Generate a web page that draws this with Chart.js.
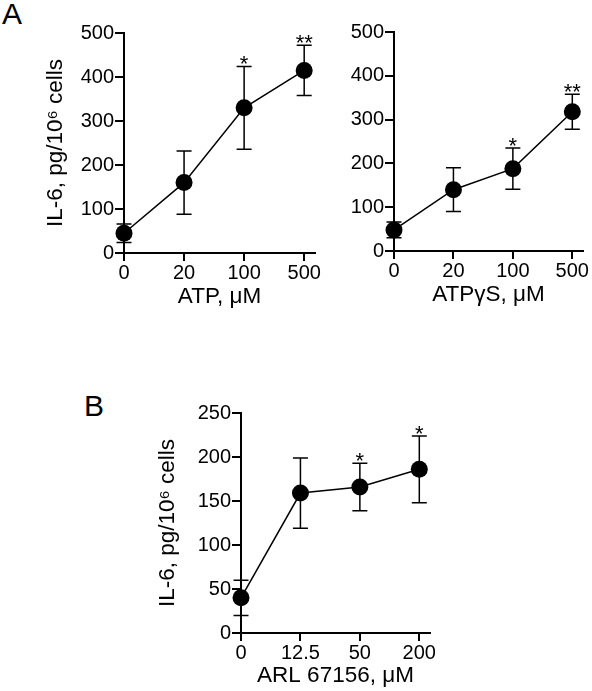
<!DOCTYPE html>
<html>
<head>
<meta charset="utf-8">
<script src="https://cdn.jsdelivr.net/npm/chart.js@4.4.1/dist/chart.umd.min.js"></script>
<style>
  html, body { margin: 0; padding: 0; background: #fff; }
  body { width: 592px; height: 691px; position: relative; overflow: hidden; }
  canvas { position: absolute; }
  .lbl { position: absolute; font: 30px 'Liberation Sans', Arial, sans-serif; line-height: 1; color: #000; }
</style>
</head>
<body>
<div class="lbl" style="left:2px; top:-1px;">A</div>
<div class="lbl" style="left:84px; top:391px;">B</div>
<canvas id="cAtp" width="330" height="320" style="left:0; top:0;"></canvas>
<canvas id="cAtpgs" width="262" height="320" style="left:330px; top:0;"></canvas>
<canvas id="cArl" width="350" height="351" style="left:120px; top:340px;"></canvas>
<script>
// Datos (media ± error)
const atpDosis = ['0', '20', '100', '500'];
const atpMedia = [45, 160, 330, 415];
const atpError = [21, 72, 94, 57];
const atpSig = ['', '', '*', '**'];

const atpgsDosis = ['0', '20', '100', '500'];
const atpgsMedia = [48, 140, 188, 318];
const atpgsError = [18, 50, 47, 40];
const atpgsSig = ['', '', '*', '**'];

const arlDosis = ['0', '12.5', '50', '200'];
const arlMedia = [40, 159, 166, 186];
const arlError = [20, 40, 27, 38];
const arlSig = ['', '', '*', '*'];

const tituloY = 'IL-6, pg/10\u2076 cells';

Chart.defaults.font.family = "'Liberation Sans', Arial, sans-serif";
Chart.defaults.color = '#000';

// barras de error (debajo de los puntos) y asteriscos (encima)
const errorBars = {
    id: 'errorBars',
    beforeDatasetsDraw(chart, args, opts) {
        const { ctx, scales: { x, y } } = chart;
        ctx.save();
        ctx.strokeStyle = '#000';
        ctx.lineWidth = 1.5;
        opts.media.forEach((m, i) => {
            const px = x.getPixelForValue(i);
            const top = y.getPixelForValue(m + opts.error[i]);
            const bot = y.getPixelForValue(m - opts.error[i]);
            ctx.beginPath();
            ctx.moveTo(px, top); ctx.lineTo(px, bot);
            ctx.moveTo(px - 7.5, top); ctx.lineTo(px + 7.5, top);
            ctx.moveTo(px - 7.5, bot); ctx.lineTo(px + 7.5, bot);
            ctx.stroke();
        });
        ctx.restore();
    },
    afterDatasetsDraw(chart, args, opts) {
        const { ctx, scales: { x, y } } = chart;
        ctx.save();
        ctx.fillStyle = '#000';
        ctx.font = "22px 'Liberation Sans', Arial, sans-serif";
        ctx.textAlign = 'center';
        ctx.textBaseline = 'alphabetic';
        opts.sig.forEach((s, i) => {
            if (!s) return;
            const px = x.getPixelForValue(i);
            const top = y.getPixelForValue(opts.media[i] + opts.error[i]);
            ctx.fillText(s, px, top + 5);
        });
        ctx.restore();
    }
};

function grafico(id, cfg) {
    const ctx = document.getElementById(id).getContext('2d');
    return new Chart(ctx, {
        type: 'line',
        data: {
            datasets: [{
                data: cfg.media.map((v, i) => ({ x: i, y: v })),
                borderColor: '#000',
                borderWidth: 1.5,
                backgroundColor: '#000',
                pointBackgroundColor: '#000',
                pointBorderWidth: 0,
                pointRadius: 8.5,
                pointHoverRadius: 8.5,
                tension: 0,
                clip: false
            }]
        },
        options: {
            responsive: false,
            animation: false,
            devicePixelRatio: 1,
            events: [],
            layout: { padding: cfg.pad },
            plugins: {
                legend: { display: false },
                tooltip: { enabled: false },
                errorBars: { media: cfg.media, error: cfg.error, sig: cfg.sig }
            },
            scales: {
                x: {
                    type: 'linear',
                    min: 0,
                    max: 3.18,
                    afterBuildTicks: s => { s.ticks = cfg.dosis.map((d, i) => ({ value: i })); },
                    afterFit: s => { s.height = cfg.xAlto; },
                    ticks: {
                        callback: (v, i) => cfg.dosis[i],
                        font: { size: 20 },
                        padding: 0,
                        maxRotation: 0,
                        autoSkip: false
                    },
                    grid: { drawOnChartArea: false, color: '#000', lineWidth: 2, tickLength: 8 },
                    border: { color: '#000', width: 2 },
                    title: {
                        display: true,
                        text: cfg.tituloX,
                        font: { size: 22.5 },
                        padding: { top: 0, bottom: cfg.xTitPad }
                    }
                },
                y: {
                    min: 0,
                    max: cfg.yMax,
                    afterFit: s => { s.width = cfg.yAncho; },
                    ticks: { stepSize: cfg.paso, font: { size: 20 }, padding: 1 },
                    grid: { drawOnChartArea: false, color: '#000', lineWidth: 2, tickLength: 9 },
                    border: { color: '#000', width: 2 },
                    title: {
                        display: !!cfg.tituloY,
                        text: cfg.tituloY || '',
                        font: { size: 22.5 },
                        padding: { top: cfg.yTitPad, bottom: 0 }
                    }
                }
            }
        },
        plugins: [errorBars]
    });
}

grafico('cAtp', {
    dosis: atpDosis, media: atpMedia, error: atpError, sig: atpSig,
    tituloX: 'ATP, \u03BCM', tituloY: tituloY,
    yMax: 500, paso: 100,
    pad: { top: 33, right: 15, bottom: 0, left: 0 },
    yAncho: 124, xAlto: 67, xTitPad: 9.5, yTitPad: 42.5
});

grafico('cAtpgs', {
    dosis: atpgsDosis, media: atpgsMedia, error: atpgsError, sig: atpgsSig,
    tituloX: 'ATP\u03B3S, \u03BCM', tituloY: null,
    yMax: 500, paso: 100,
    pad: { top: 32, right: 9, bottom: 0, left: 0 },
    yAncho: 64, xAlto: 69, xTitPad: 11.5, yTitPad: 0
});

grafico('cArl', {
    dosis: arlDosis, media: arlMedia, error: arlError, sig: arlSig,
    tituloX: 'ARL 67156, \u03BCM', tituloY: tituloY,
    yMax: 250, paso: 50,
    pad: { top: 73, right: 40, bottom: 0, left: 0 },
    yAncho: 121, xAlto: 58, xTitPad: 1.5, yTitPad: 34.5
});
</script>
</body>
</html>
